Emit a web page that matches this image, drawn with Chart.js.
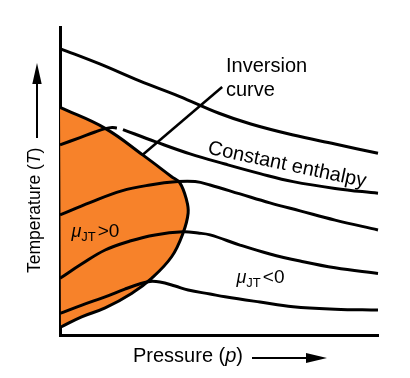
<!DOCTYPE html>
<html>
<head>
<meta charset="utf-8">
<script src="https://cdn.jsdelivr.net/npm/chart.js@4"></script>
<style>
html, body { margin: 0; padding: 0; background: #fff; }
#wrap { width: 410px; height: 378px; }
</style>
</head>
<body>
<div id="wrap"><canvas id="jtChart" width="410" height="378"></canvas></div>
<script>
// pressure (x) and temperature (y), both in arbitrary units 0-100
const enthalpy1 = [[0,93],[12.5,88],[25,82.5],[37.5,77.5],[50,72],[60,68.5],[73,65],[86.5,62],[100,59]];
const enthalpy2a = [[0,61.7],[6.3,64.1],[11,65.9],[14.2,67],[16.4,67.4],[17.9,67.2]];
const enthalpy2b = [[19.8,66.7],[29.9,62.8],[40.9,58.8],[51.9,55.5],[62.9,52.4],[73.3,49.8],[86.5,47.6],[100,46]];
const enthalpy3 = [[0,39],[9.4,43],[19.4,46.8],[28.3,48.7],[37.1,49.8],[42.5,49.8],[47.2,48.7],[56.6,45.8],[66,42.9],[75.5,40.3],[86.5,37.3],[100,34.1]];
const enthalpy4 = [[0,18.4],[6.9,23.1],[14.2,27.6],[22,30.5],[29.9,32.5],[38.7,33.5],[43.4,33.1],[47.2,32.5],[56.6,29.2],[66,26.3],[75.5,24],[86.5,21.8],[100,20]];
const enthalpy5 = [[0,7],[6.9,9.7],[14.2,12.4],[20.4,14.9],[25.7,16.8],[28.3,17.4],[31.4,17.2],[36.2,15.9],[40.3,14.6],[47.2,13.3],[51.9,12.4],[62.9,10.7],[73.3,9.2],[86.5,8.4],[100,8.1]];
const inversionCurve = [[0,73.9],[14.2,67.1],[26.1,58.4],[35.1,51.4],[37.7,49.4],[39.8,43.8],[40.3,39.6],[38.7,33.1],[35.1,25.4],[28.8,18.4],[22.5,13.5],[14.2,8.8],[6.8,5.9],[0.3,2.6]];
const pointerLine = [[26,58.5],[51,80.5]];

const FONT = '"Liberation Sans", Arial, Helvetica, sans-serif';
const ORANGE = '#f7822a';

function pts(arr) {
    return arr.map((p) => ({ x: p[0], y: p[1] }));
}

function curve(arr, width) {
    return {
        data: pts(arr),
        showLine: true,
        borderColor: '#000',
        borderWidth: width || 3,
        pointRadius: 0,
        tension: 0.4,
        fill: false,
        clip: false
    };
}

// draws a row of text pieces with different fonts one after another
function drawRuns(ctx, runs, x, y) {
    let cx = x;
    for (const r of runs) {
        ctx.font = r.font;
        ctx.fillText(r.text, cx, y + (r.dy || 0));
        cx += ctx.measureText(r.text).width + (r.gap || 0);
    }
}

const labelPlugin = {
    id: 'jtLabels',
    afterDraw(chart) {
        const ctx = chart.ctx;
        const xs = chart.scales.x;
        const ys = chart.scales.y;
        const area = chart.chartArea;
        ctx.save();
        ctx.fillStyle = '#000';
        ctx.strokeStyle = '#000';
        ctx.textBaseline = 'alphabetic';

        ctx.font = '20px ' + FONT;
        ctx.fillText('Inversion', xs.getPixelForValue(52.2), ys.getPixelForValue(85.4));
        ctx.fillText('curve', xs.getPixelForValue(52.2), ys.getPixelForValue(77.6));

        ctx.save();
        ctx.translate(xs.getPixelForValue(71.4), ys.getPixelForValue(55.2));
        ctx.rotate(12 * Math.PI / 180);
        ctx.textAlign = 'center';
        ctx.textBaseline = 'middle';
        ctx.fillText('Constant enthalpy', 0, 0);
        ctx.restore();

        drawRuns(ctx, [
            { text: 'μ', font: 'italic 18px ' + FONT },
            { text: 'JT', font: '13px ' + FONT, dy: 4, gap: 2 },
            { text: '>0', font: '19px ' + FONT }
        ], xs.getPixelForValue(3.6), ys.getPixelForValue(31.8));

        drawRuns(ctx, [
            { text: 'μ', font: 'italic 18px ' + FONT },
            { text: 'JT', font: '13px ' + FONT, dy: 4, gap: 2 },
            { text: '<0', font: '19px ' + FONT }
        ], xs.getPixelForValue(55.5), ys.getPixelForValue(16.9));

        // axis titles with arrows
        drawRuns(ctx, [
            { text: 'Pressure (', font: '20px ' + FONT },
            { text: 'p', font: 'italic 20px ' + FONT },
            { text: ')', font: '20px ' + FONT }
        ], area.left + 73, area.bottom + 27);
        ctx.lineWidth = 2;
        ctx.beginPath();
        ctx.moveTo(area.left + 192, area.bottom + 23);
        ctx.lineTo(area.left + 250, area.bottom + 23);
        ctx.stroke();
        ctx.beginPath();
        ctx.moveTo(area.left + 267, area.bottom + 23);
        ctx.lineTo(area.left + 246, area.bottom + 18);
        ctx.lineTo(area.left + 246, area.bottom + 28);
        ctx.closePath();
        ctx.fill();

        ctx.save();
        ctx.translate(39.5, 273);
        ctx.rotate(-Math.PI / 2);
        drawRuns(ctx, [
            { text: 'Temperature (', font: '17.5px ' + FONT },
            { text: 'T', font: 'italic 17.5px ' + FONT },
            { text: ')', font: '17.5px ' + FONT }
        ], 0, 0);
        ctx.restore();
        ctx.beginPath();
        ctx.moveTo(37, 138);
        ctx.lineTo(37, 80);
        ctx.stroke();
        ctx.beginPath();
        ctx.moveTo(37, 63);
        ctx.lineTo(32.3, 84);
        ctx.lineTo(41.7, 84);
        ctx.closePath();
        ctx.fill();
        ctx.restore();
    }
};

const inversionSet = curve(inversionCurve);
inversionSet.fill = 'shape';
inversionSet.backgroundColor = ORANGE;

const pointerSet = curve(pointerLine, 2.5);
pointerSet.tension = 0;

new Chart('jtChart', {
    type: 'scatter',
    data: {
        datasets: [
            curve(enthalpy1),
            curve(enthalpy2a),
            curve(enthalpy2b),
            curve(enthalpy3),
            curve(enthalpy4),
            curve(enthalpy5),
            pointerSet,
            inversionSet
        ]
    },
    options: {
        responsive: false,
        devicePixelRatio: 1,
        animation: false,
        layout: { padding: { left: 60, right: 32, top: 27, bottom: 43 } },
        plugins: { legend: { display: false }, tooltip: { enabled: false } },
        scales: {
            x: {
                type: 'linear', min: 0, max: 100,
                ticks: { display: false },
                grid: { display: false, drawTicks: false },
                border: { display: true, width: 3, color: '#000' }
            },
            y: {
                type: 'linear', min: 0, max: 100,
                ticks: { display: false },
                grid: { display: false, drawTicks: false },
                border: { display: true, width: 3, color: '#000' }
            }
        }
    },
    plugins: [labelPlugin]
});
</script>
</body>
</html>
